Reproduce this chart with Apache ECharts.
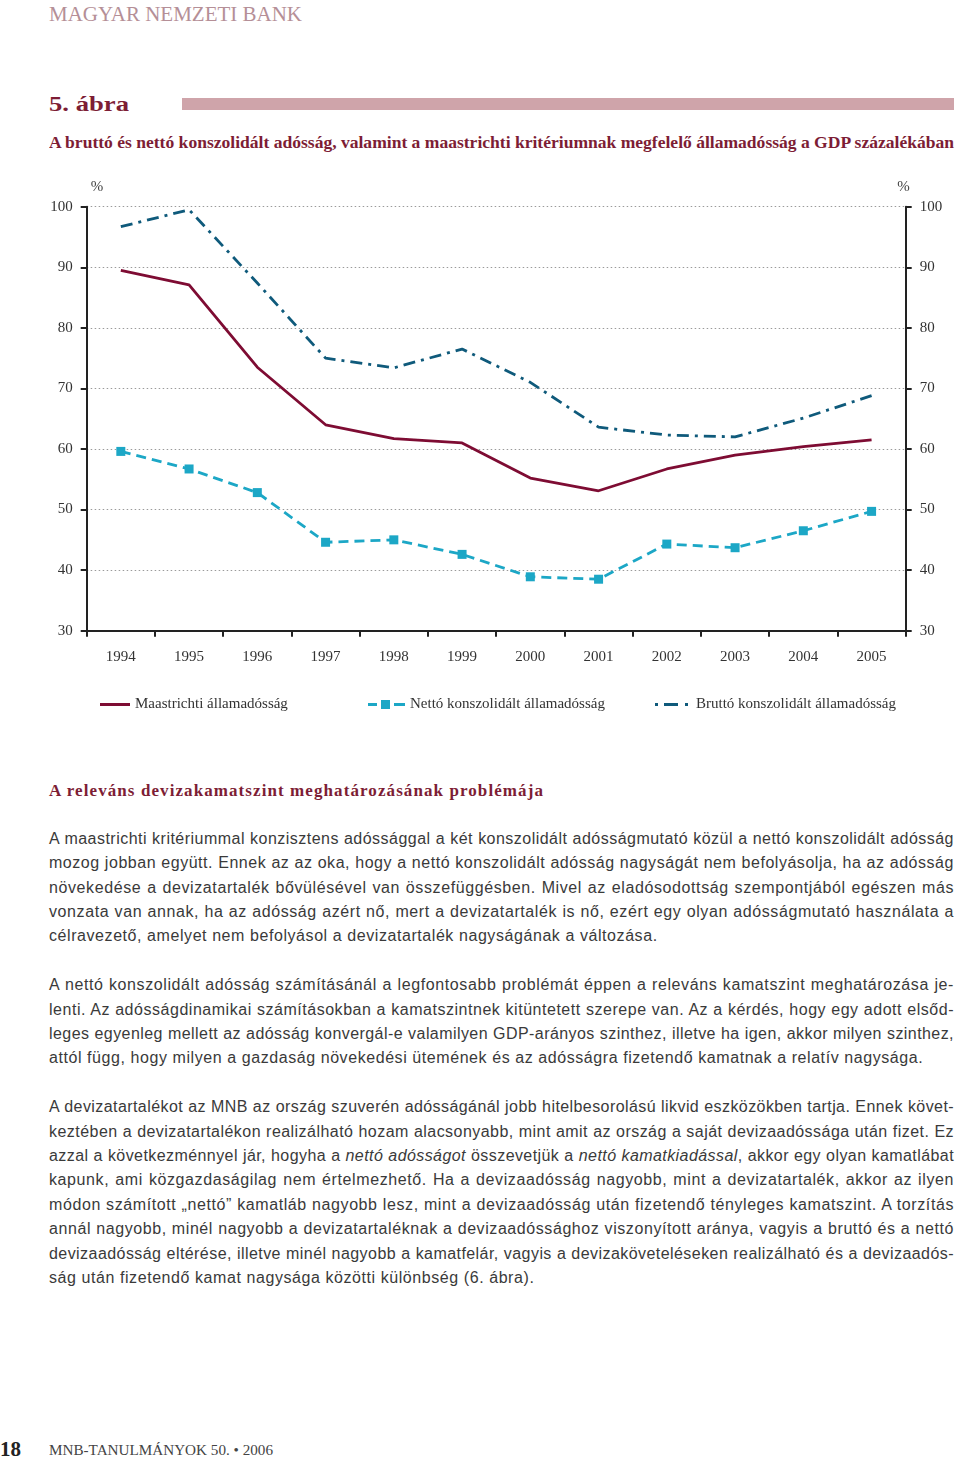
<!DOCTYPE html>
<html><head><meta charset="utf-8">
<script src="https://cdn.jsdelivr.net/npm/echarts@6/dist/echarts.min.js"></script>
<style>
html,body{margin:0;padding:0;background:#fff;}
body{width:960px;height:1458px;position:relative;overflow:hidden;}
.abs{position:absolute;white-space:nowrap;}
.hdr{left:49px;top:1px;font-family:"Liberation Serif",serif;font-size:22px;color:#b58f97;line-height:26px;}
.fig{left:49px;top:90px;font-family:"Liberation Serif",serif;font-weight:bold;font-size:22px;color:#7d1d35;line-height:28px;}
.bar{position:absolute;left:182px;top:98px;width:772px;height:12px;background:#cfa4aa;}
.ttl{left:49px;top:133px;font-family:"Liberation Serif",serif;font-weight:bold;font-size:16px;color:#7d1d35;line-height:20px;}
.sec{left:49px;top:780px;font-family:"Liberation Serif",serif;font-weight:bold;font-size:17px;color:#7d1d35;line-height:22px;}
#chart{position:absolute;left:0;top:170px;width:960px;height:560px;}
#body{position:absolute;left:49px;top:826.8px;width:905px;font-family:"Liberation Sans",Arial,sans-serif;font-size:16px;line-height:24.4px;color:#3a3a3a;}
#body .par{margin:0 0 24.4px 0;}
#body .ln{white-space:nowrap;text-align:left;}
.pg{left:0px;top:1437px;font-family:"Liberation Serif",serif;font-weight:bold;font-size:21px;color:#222;line-height:24px;}
.ft{left:49px;top:1441px;font-family:"Liberation Serif",serif;font-size:15px;color:#444;line-height:18px;}
</style></head>
<body>
<div class="abs hdr" id="hdr">MAGYAR NEMZETI BANK</div>
<div class="abs fig" id="fig">5. ábra</div>
<div class="bar"></div>
<div class="abs ttl" id="ttl">A bruttó és nettó konszolidált adósság, valamint a maastrichti kritériumnak megfelelő államadósság a GDP százalékában</div>
<div id="chart"></div>
<div class="abs sec" id="sec">A releváns devizakamatszint meghatározásának problémája</div>
<div id="body">
<div class="par">
<div class="ln j">A maastrichti kritériummal konzisztens adóssággal a két konszolidált adósságmutató közül a nettó konszolidált adósság</div>
<div class="ln j">mozog jobban együtt. Ennek az az oka, hogy a nettó konszolidált adósság nagyságát nem befolyásolja, ha az adósság</div>
<div class="ln j">növekedése a devizatartalék bővülésével van összefüggésben. Mivel az eladósodottság szempontjából egészen más</div>
<div class="ln j">vonzata van annak, ha az adósság azért nő, mert a devizatartalék is nő, ezért egy olyan adósságmutató használata a</div>
<div class="ln">célravezető, amelyet nem befolyásol a devizatartalék nagyságának a változása.</div>
</div>
<div class="par">
<div class="ln j">A nettó konszolidált adósság számításánál a legfontosabb problémát éppen a releváns kamatszint meghatározása je-</div>
<div class="ln j">lenti. Az adósságdinamikai számításokban a kamatszintnek kitüntetett szerepe van. Az a kérdés, hogy egy adott elsőd-</div>
<div class="ln j">leges egyenleg mellett az adósság konvergál-e valamilyen GDP-arányos szinthez, illetve ha igen, akkor milyen szinthez,</div>
<div class="ln">attól függ, hogy milyen a gazdaság növekedési ütemének és az adósságra fizetendő kamatnak a relatív nagysága.</div>
</div>
<div class="par">
<div class="ln j">A devizatartalékot az MNB az ország szuverén adósságánál jobb hitelbesorolású likvid eszközökben tartja. Ennek követ-</div>
<div class="ln j">keztében a devizatartalékon realizálható hozam alacsonyabb, mint amit az ország a saját devizaadóssága után fizet. Ez</div>
<div class="ln j">azzal a következménnyel jár, hogyha a <i>nettó adósságot</i> összevetjük a <i>nettó kamatkiadással</i>, akkor egy olyan kamatlábat</div>
<div class="ln j">kapunk, ami közgazdaságilag nem értelmezhető. Ha a devizaadósság nagyobb, mint a devizatartalék, akkor az ilyen</div>
<div class="ln j">módon számított „nettó” kamatláb nagyobb lesz, mint a devizaadósság után fizetendő tényleges kamatszint. A torzítás</div>
<div class="ln j">annál nagyobb, minél nagyobb a devizatartaléknak a devizaadóssághoz viszonyított aránya, vagyis a bruttó és a nettó</div>
<div class="ln j">devizaadósság eltérése, illetve minél nagyobb a kamatfelár, vagyis a devizaköveteléseken realizálható és a devizaadós-</div>
<div class="ln">ság után fizetendő kamat nagysága közötti különbség (6. ábra).</div>
</div>
</div>
<div class="abs pg">18</div>
<div class="abs ft" id="ft">MNB-TANULMÁNYOK 50. • 2006</div>
<script>
// ---- data ----
const years = ['1994','1995','1996','1997','1998','1999','2000','2001','2002','2003','2004','2005'];
const maastricht = [89.5, 87.1, 73.5, 64.0, 61.7, 61.0, 55.2, 53.1, 56.7, 59.0, 60.4, 61.5];
const netto = [59.6, 56.7, 52.8, 44.6, 45.0, 42.6, 38.9, 38.5, 44.3, 43.7, 46.5, 49.7];
const brutto = [96.7, 99.5, 87.4, 75.0, 73.4, 76.5, 71.0, 63.6, 62.3, 62.0, 65.1, 68.8];
const seriesNames = ['Maastrichti államadósság', 'Nettó konszolidált államadósság', 'Bruttó konszolidált államadósság'];
const yTicks = {min: 30, max: 100, interval: 10};

// ---- text fitting ----
function fitScale(id, W){
  const el = document.getElementById(id);
  el.style.display = 'inline-block';
  const w = el.getBoundingClientRect().width;
  el.style.transformOrigin = 'left center';
  el.style.transform = 'scaleX(' + (W / w) + ')';
}
function fitSpacing(id, W){
  const el = document.getElementById(id);
  el.style.display = 'inline-block';
  const w = el.getBoundingClientRect().width;
  const n = el.textContent.length;
  el.style.letterSpacing = ((W - w) / n) + 'px';
}
fitScale('hdr', 253);
fitScale('fig', 80);
fitScale('ttl', 905);
fitSpacing('sec', 495);
fitScale('ft', 224);
document.querySelectorAll('#body .ln').forEach(function(d){
  const sp = document.createElement('span');
  while (d.firstChild) sp.appendChild(d.firstChild);
  d.appendChild(sp);
  const w = sp.getBoundingClientRect().width;
  const n = sp.textContent.length;
  if (d.classList.contains('j')) {
    let ls = (902 - w) / n;
    if (ls > 0.6) ls = 0.6;
    d.style.letterSpacing = ls + 'px';
    d.style.whiteSpace = 'normal';
    d.style.textAlign = 'justify';
    d.style.textAlignLast = 'justify';
  } else {
    d.style.letterSpacing = '0.57px';
  }
});

// ---- chart ----
const chart = echarts.init(document.getElementById('chart'), null, {renderer: 'canvas'});
const serif = '"Liberation Serif", "Times New Roman", serif';
const axisLineStyle = {color: '#222', width: 2};
const cMaas = '#7e0c33', cNet = '#1ca7c6', cBrut = '#0f5a7b';
function yAxis(pos){
  return {
    type: 'value', position: pos, min: yTicks.min, max: yTicks.max, interval: yTicks.interval,
    name: '%', nameLocation: 'end', nameGap: 12,
    nameTextStyle: {fontFamily: serif, fontSize: 15, color: '#444', align: pos === 'left' ? 'left' : 'right', padding: pos === 'left' ? [0,0,0,4] : [0,-4,0,0]},
    axisLine: {show: true, lineStyle: axisLineStyle},
    axisTick: {show: true, length: 6, inside: false, lineStyle: axisLineStyle},
    axisLabel: {fontFamily: serif, fontSize: 15, color: '#333', margin: 14},
    splitLine: {show: pos === 'left', lineStyle: {color: '#9a9a9a', type: [1.5, 2.5], width: 1}}
  };
}
const legendText = {fontFamily: serif, fontSize: 15, color: '#333'};
// legend icon shapes (icon box = itemWidth x itemHeight)
const iconMaas = 'path://M0,0H30V3H0Z';
const iconNet = 'path://M0,3.5H9V6.5H0Z M13,0.5H22V9.5H13Z M26,3.5H37V6.5H26Z M0,0H0.01V10H0Z';
const iconBrut = 'path://M0,0H3V3H0Z M9,0H23V3H9Z M30,0H33V3H30Z M35.99,0H36V3H35.99Z';
chart.setOption({
  animation: false,
  grid: {left: 86.7, right: 54.3, top: 36.7, bottom: 99.3, containLabel: false},
  xAxis: {
    type: 'category', data: years, boundaryGap: true,
    axisLine: {show: true, lineStyle: axisLineStyle, onZero: false},
    axisTick: {show: true, length: 6, lineStyle: axisLineStyle, alignWithLabel: false},
    axisLabel: {fontFamily: serif, fontSize: 15, color: '#333', margin: 19, interval: 0},
    splitLine: {show: false}
  },
  yAxis: [yAxis('left'), yAxis('right')],
  legend: [
    {data: [{name: seriesNames[0], icon: iconMaas}], left: 100, top: 527, padding: 0, itemWidth: 30, itemHeight: 3, textStyle: legendText},
    {data: [{name: seriesNames[1], icon: iconNet}], left: 368, top: 527, padding: 0, itemWidth: 37, itemHeight: 10, textStyle: legendText},
    {data: [{name: seriesNames[2], icon: iconBrut}], left: 655, top: 527, padding: 0, itemWidth: 36, itemHeight: 3, textStyle: legendText}
  ],
  series: [
    {name: seriesNames[0], type: 'line', data: maastricht, symbol: 'none', z: 3,
     lineStyle: {color: cMaas, width: 2.8}, itemStyle: {color: cMaas}},
    {name: seriesNames[1], type: 'line', data: netto, symbol: 'rect', symbolSize: 9, z: 2,
     lineStyle: {color: cNet, width: 2.8, type: [10, 6]}, itemStyle: {color: cNet}},
    {name: seriesNames[2], type: 'line', data: brutto, symbol: 'none', z: 2,
     lineStyle: {color: cBrut, width: 2.8, type: [12, 6, 3, 6]}, itemStyle: {color: cBrut}}
  ]
});
</script>
</body></html>
